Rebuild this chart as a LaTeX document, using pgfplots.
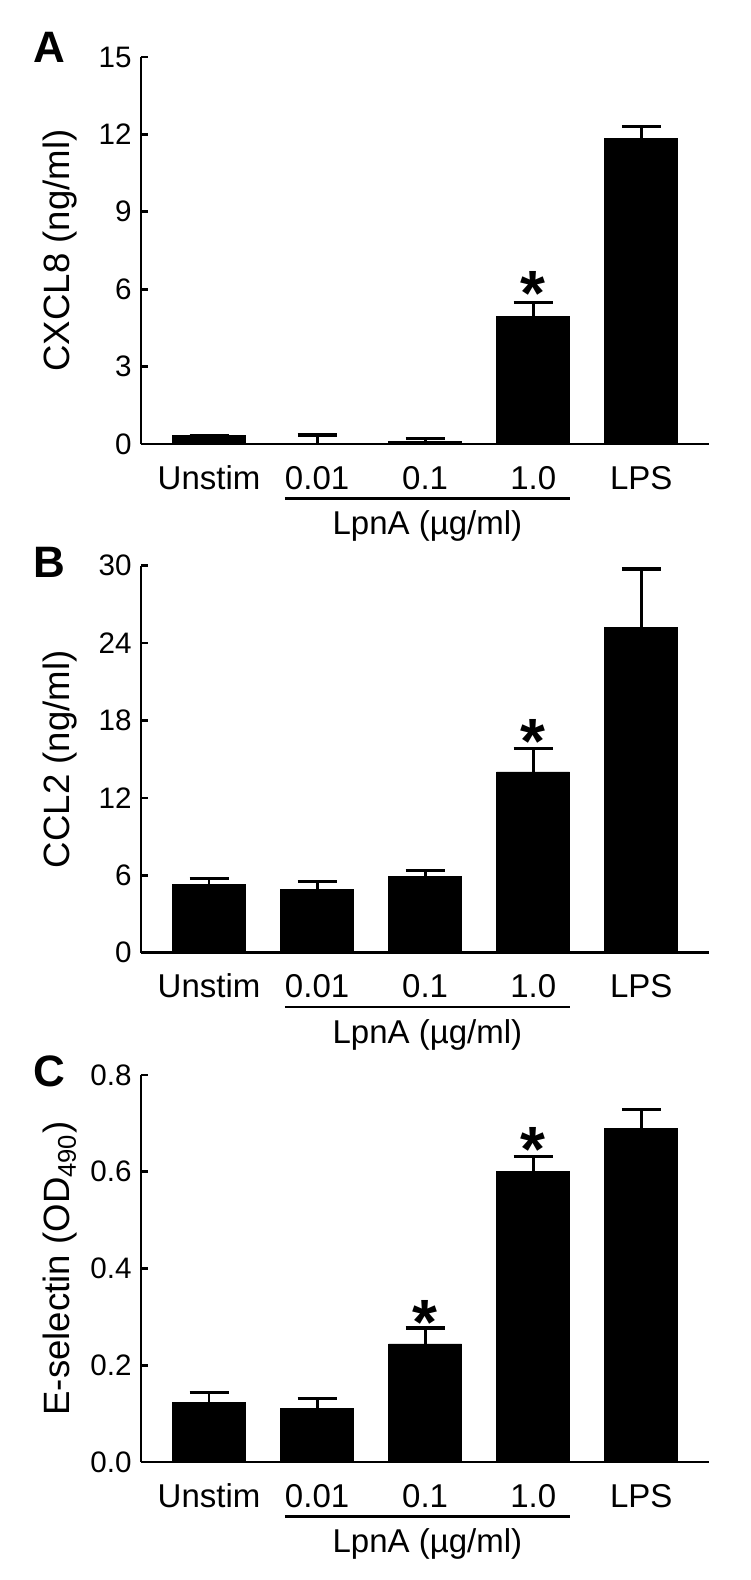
\documentclass[border=0pt]{standalone}
\usepackage{fontspec}
\setmainfont{Liberation Sans}
\usepackage{pgfplots}
\pgfplotsset{compat=1.18}
\pgfplotsset{
  panel/.style={
    scale only axis, width=284.15pt, height=193.5pt,
    xmin=-0.63, xmax=4.63, ymin=0,
    clip=false,
    axis x line*=bottom, axis y line*=left,
    axis line style={-, line width=1.35pt},
    ybar, bar width=36.5pt,
    xtick={0,1,2,3,4},
    xticklabels={Unstim,0.01,0.1,1.0,LPS},
    xtick style={draw=none},
    xticklabel style={font=\fontsize{16.5pt}{16.5pt}\selectfont, anchor=base, inner sep=0pt, yshift=-22.5pt},
    tick align=inside, major tick length=3.5pt,
    ytick style={line width=1.35pt, black},
    yticklabel style={font=\fontsize{14.8pt}{14.8pt}\selectfont, anchor=east, inner sep=0pt, xshift=-4.5pt},
    /pgf/number format/assume math mode=true,
  },
  bars/.style={fill=black, draw=black, line width=0.4pt,
    error bars/.cd, y dir=plus, y explicit,
    error bar style={line width=1.4pt, black},
    error mark options={rotate=90, mark size=9.75pt, line width=1.6pt, black}},
}
\tikzset{
  mystar/.style={anchor=north, inner sep=0pt, font=\fontsize{32pt}{32pt}\selectfont\bfseries},
  myletter/.style={anchor=center, inner sep=0pt, font=\fontsize{22pt}{22pt}\selectfont\bfseries},
  myylabel/.style={rotate=90, anchor=base, inner sep=0pt, font=\fontsize{18.3pt}{18.3pt}\selectfont},
}
\newcommand{\lpna}{%
  \draw[line width=1.35pt] (rel axis cs:0.253,-0.1403) -- (rel axis cs:0.755,-0.1403);
  \node[anchor=base, inner sep=0pt, font=\fontsize{16.5pt}{16.5pt}\selectfont] at (rel axis cs:0.504,-0.235) {LpnA (µg/ml)};
}
\begin{document}
\begin{tikzpicture}
% Panel A
\begin{axis}[panel, at={(70.5pt,-222pt)}, anchor=south west,
  ymax=15, ytick={0,3,6,9,12,15}]
\addplot[bars] table[x=x, y=y, y error=e] {
x y e
0 0.33 0.0
1 0.0 0.35
2 0.10 0.12
3 4.93 0.55
4 11.85 0.47
};
\node[mystar] at (axis cs:3,6.71) {*};
\node[myletter] at (rel axis cs:-0.162,1.026) {A};
\node[myylabel] at (rel axis cs:-0.125,0.5) {CXCL8 (ng/ml)};
\lpna
\end{axis}
% Panel B
\begin{axis}[panel, at={(70.5pt,-476.35pt)}, anchor=south west,
  ymax=30, ytick={0,6,12,18,24,30}]
\addplot[bars] table[x=x, y=y, y error=e] {
x y e
0 5.29 0.44
1 4.90 0.65
2 5.88 0.52
3 14.01 1.85
4 25.23 4.51
};
\node[mystar] at (axis cs:3,18.13) {*};
\node[myletter] at (rel axis cs:-0.162,1.0085) {B};
\node[myylabel] at (rel axis cs:-0.125,0.5) {CCL2 (ng/ml)};
\lpna
\end{axis}
% Panel C
\begin{axis}[panel, at={(70.5pt,-731pt)}, anchor=south west,
  ymax=0.8, ytick={0,0.2,0.4,0.6,0.8},
  yticklabel style={/pgf/number format/.cd, fixed, fixed zerofill, precision=1}]
\addplot[bars] table[x=x, y=y, y error=e] {
x y e
0 0.124 0.020
1 0.111 0.020
2 0.244 0.033
3 0.601 0.031
4 0.689 0.040
};
\node[mystar] at (axis cs:2,0.334) {*};
\node[mystar] at (axis cs:3,0.693) {*};
\node[myletter] at (rel axis cs:-0.162,1.0085) {C};
\node[myylabel] at (rel axis cs:-0.125,0.5) {E-selectin (OD\textsubscript{490})};
\lpna
\end{axis}
\pgfresetboundingbox
\path[use as bounding box] (0,0) rectangle (375pt,-790pt);
\end{tikzpicture}
\end{document}
